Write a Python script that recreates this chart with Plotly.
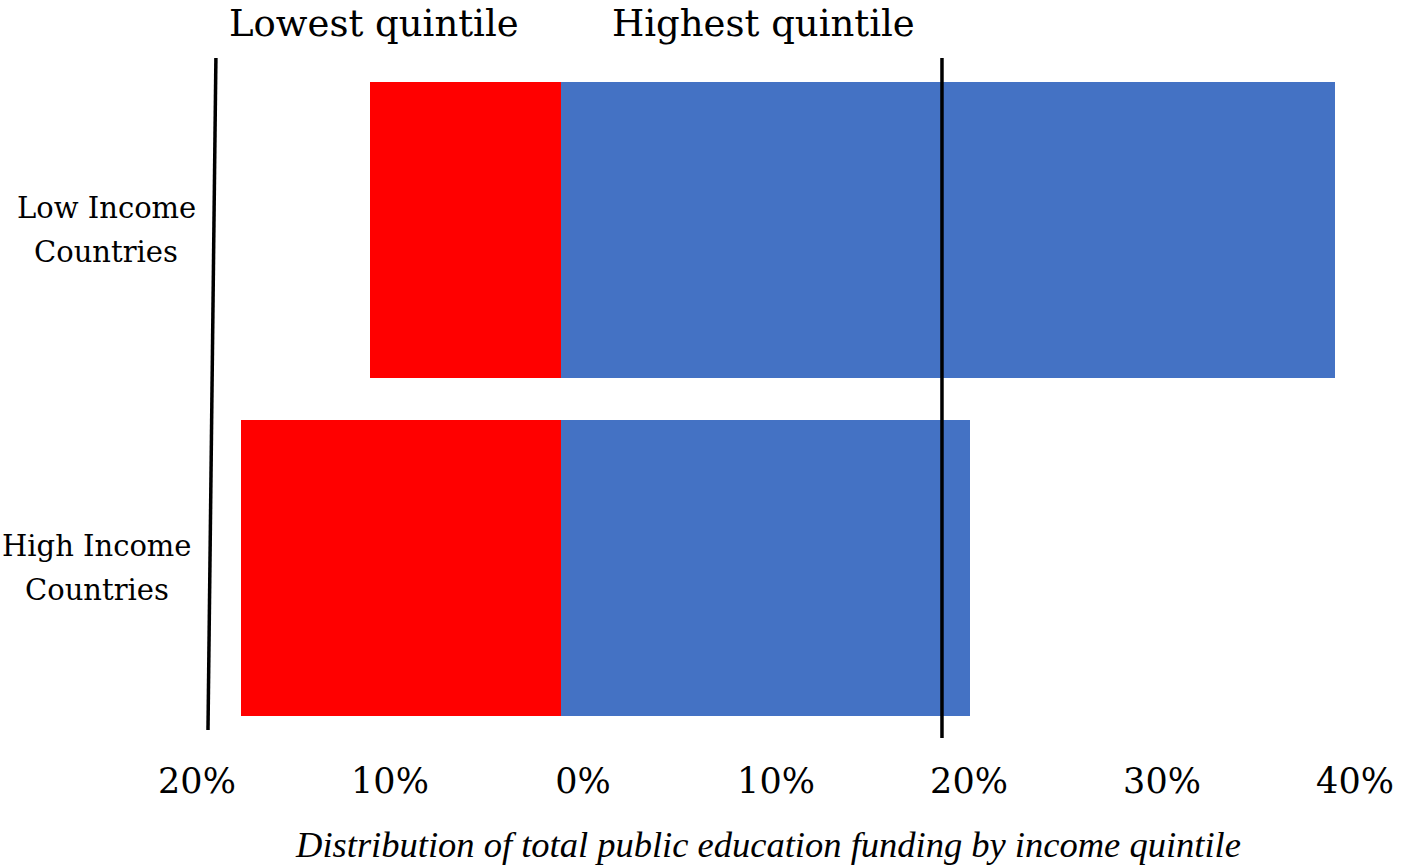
import plotly.graph_objects as go

# Country groups (top to bottom)
groups = ["Low Income Countries", "High Income Countries"]
group_lines = [["Low Income", "Countries"], ["High Income", "Countries"]]

# Share of total public education funding (%)
lowest_quintile = [9.9, 16.6]    # drawn to the left of zero
highest_quintile = [40.1, 21.2]  # drawn to the right of zero

# Axis ticks
tick_values = [-20, -10, 0, 10, 20, 30, 40]
tick_text = ["20%", "10%", "0%", "10%", "20%", "30%", "40%"]

# Reference lines (in % on the x axis)
equal_share_line = 19.74
divider_top, divider_bottom = -17.88, -18.29

SERIF = "DejaVu Serif, Georgia, serif"

fig = go.Figure()
fig.add_trace(go.Bar(
    y=groups, x=[-v for v in lowest_quintile], orientation="h",
    marker=dict(color="#FF0000", line=dict(width=0)), width=0.876,
    name="Lowest quintile", hoverinfo="skip",
))
fig.add_trace(go.Bar(
    y=groups, x=highest_quintile, orientation="h",
    marker=dict(color="#4472C4", line=dict(width=0)), width=0.876,
    name="Highest quintile", hoverinfo="skip",
))

# Equal-share reference line and the slanted divider on the left
fig.add_shape(type="line", xref="x", yref="paper",
              x0=equal_share_line, x1=equal_share_line, y0=1.0044, y1=-0.0015,
              line=dict(color="black", width=3.5))
fig.add_shape(type="line", xref="x", yref="paper",
              x0=divider_top, x1=divider_bottom, y0=1.0044, y1=0.0104,
              line=dict(color="black", width=3.5))

# Group labels, centred, one annotation per line
for y, lines, px in zip(groups, group_lines, [106, 97]):
    for line, shift in zip(lines, [22, -22]):
        fig.add_annotation(x=(px - 156) / 1225, xref="paper", y=y, yref="y",
                           text=line, showarrow=False, align="center",
                           xanchor="center", yanchor="middle", yshift=shift,
                           font=dict(family=SERIF, size=29, color="black"))

# Column headers
fig.add_annotation(x=-9.69, xref="x", y=1.056, yref="paper",
                   text="Lowest quintile", showarrow=False,
                   xanchor="center", yanchor="middle",
                   font=dict(family=SERIF, size=37, color="black"))
fig.add_annotation(x=10.47, xref="x", y=1.056, yref="paper",
                   text="Highest quintile", showarrow=False,
                   xanchor="center", yanchor="middle",
                   font=dict(family=SERIF, size=37, color="black"))

fig.update_layout(
    width=1402, height=865,
    margin=dict(l=156, r=21, t=61, b=128, autoexpand=False),
    barmode="relative", bargap=0,
    showlegend=False,
    plot_bgcolor="white", paper_bgcolor="white",
    xaxis=dict(
        range=[-20.984, 42.487], automargin=False,
        tickvals=tick_values, ticktext=tick_text,
        tickfont=dict(family=SERIF, size=35, color="black"),
        ticklabelshift=22, ticklabelstandoff=20,
        showgrid=False, zeroline=False, showline=False, ticks="",
        title=dict(text="<i>Distribution of total public education funding by income quintile</i>",
                   font=dict(family="Liberation Serif, serif", size=36.5, color="black"),
                   standoff=32),
    ),
    yaxis=dict(
        range=[1.5, -0.5], showticklabels=False, automargin=False,
        showgrid=False, zeroline=False, showline=False, ticks="",
    ),
)

fig.write_html("out.html")
